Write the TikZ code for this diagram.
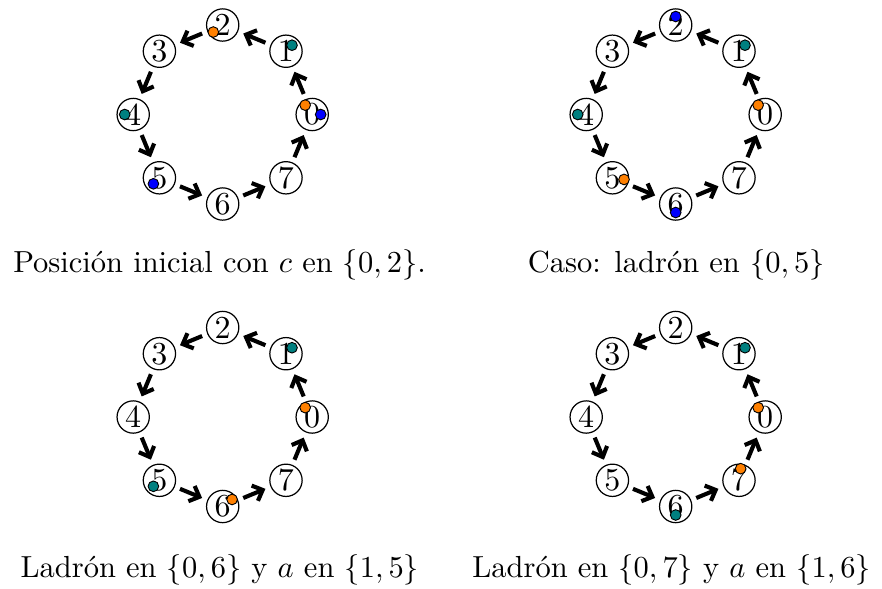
\documentclass[tikz,border=0pt]{standalone}
\usepackage{fontspec}
\usetikzlibrary{arrows.meta}
\definecolor{dotorange}{rgb}{1,0.5,0}
\definecolor{dotteal}{rgb}{0,0.5,0.5}
\definecolor{dotblue}{rgb}{0,0,1}
\begin{document}
\begin{tikzpicture}[x=0.328pt,y=0.328pt,
  vtx/.style={circle,draw,line width=0.4pt,minimum size=10.6pt,inner sep=0pt,font=\fontsize{10.5}{12}\selectfont},
  arr/.style={-{Straight Barb[length=2.8pt,width=5.4pt]},line width=1.35pt,shorten >=1.8pt,shorten <=1.8pt},
  dotst/.style={draw=black,line width=0.3pt},
  captxt/.style={anchor=base west,inner sep=0pt}]
\useasboundingbox (0,0) rectangle (882,588);
\foreach \p/\cx/\cy in {A/222.7/473.5, B/675.7/473.5, C/222.7/171, D/675.7/171} {
  \foreach \k in {0,...,7}
    \node[vtx] (\p\k) at ({\cx+89.5*cos(45*\k)},{\cy+89.5*sin(45*\k)}) {\k};
  \foreach \k [evaluate=\k as \n using {int(mod(\k+1,8))}] in {0,...,7}
    \draw[arr] (\p\k) -- (\p\n);
}
% outer dots
\foreach \cx/\cy/\k/\c in {
  222.7/473.5/1/dotteal, 222.7/473.5/4/dotteal, 222.7/473.5/5/dotblue, 222.7/473.5/0/dotblue,
  675.7/473.5/2/dotblue, 675.7/473.5/1/dotteal, 675.7/473.5/4/dotteal, 675.7/473.5/6/dotblue,
  222.7/171/1/dotteal, 222.7/171/5/dotteal,
  675.7/171/1/dotteal, 675.7/171/6/dotteal}
  \filldraw[dotst,fill=\c] ({\cx+98*cos(45*\k)},{\cy+98*sin(45*\k)}) circle[radius=1.75pt];
% inner dots
\foreach \cx/\cy/\k in {
  222.7/473.5/2, 222.7/473.5/0,
  675.7/473.5/5, 675.7/473.5/0,
  222.7/171/0, 222.7/171/6,
  675.7/171/0, 675.7/171/7}
  \filldraw[dotst,fill=dotorange] ({\cx+83*cos(45*\k+6.5)},{\cy+83*sin(45*\k+6.5)}) circle[radius=1.75pt];
\node[captxt] (capA) at (12.7,316) {Posición inicial con $c$ en $\{0,2\}$.};
\node[captxt] (capB) at (527.3,316) {Caso: ladrón en $\{0,5\}$};
\node[captxt] (capC) at (20,11) {Ladrón en $\{0,6\}$ y $a$ en $\{1,5\}$};
\node[captxt] (capD) at (471.7,11) {Ladrón en $\{0,7\}$ y $a$ en $\{1,6\}$};
\end{tikzpicture}
\end{document}
